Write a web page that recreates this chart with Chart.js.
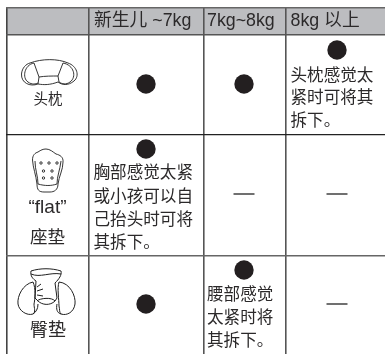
<!DOCTYPE html>
<html><head><meta charset="utf-8">
<style>html,body{margin:0;padding:0;background:#fff}canvas{display:block}</style>
<script src="https://cdn.jsdelivr.net/npm/chart.js@4/dist/chart.umd.min.js"></script>
</head><body><canvas id="c" width="385" height="354"></canvas>
<script>
// Table content
const columns = ['新生儿 ~7kg', '7kg~8kg', '8kg 以上'];
const rowLabels = [['头枕'], ['“flat”', '座垫'], ['臀垫']];
const fitDots = [{col:0,row:0},{col:1,row:0},{col:2,row:0,note:true},{col:0,row:1,note:true},{col:1,row:2,note:true},{col:0,row:2}];
const noFit = [{col:1,row:1},{col:2,row:1},{col:2,row:2}];
const notes = [
  {col:2,row:0,lines:['头枕感觉太','紧时可将其','拆下。']},
  {col:0,row:1,lines:['胸部感觉太紧','或小孩可以自','己抬头时可将','其拆下。']},
  {col:1,row:2,lines:['腰部感觉','太紧时将','其拆下。']}
];
// Table layout in the scale's units
const colEdges = [6.5, 89, 203.5, 286];
const rowEdges = [7.5, 35, 134.5, 256];
const colCenters = [146, 244, 337];
const rowCenters = [84, 194, 304];
const dotY = [50, 149, 270];
const font = '"Liberation Sans","Noto Sans CJK SC",sans-serif';
const ink = '#231f20', txt = '#2b292a';

const cellX = d => colCenters[d.col];
const cellY = d => d.note ? dotY[d.row] : rowCenters[d.row];

function drawIcons(c, X, Y){
  c.save(); c.strokeStyle='#1f1f1f'; c.lineWidth=0.9; c.lineJoin='round';
  const path = (pts)=>{c.beginPath();pts();c.stroke();};
  // headrest
  path(()=>{c.moveTo(X(30),Y(63));c.bezierCurveTo(X(42),Y(58.5),X(58),Y(58.5),X(68),Y(63));c.bezierCurveTo(X(77),Y(66),X(80),Y(76),X(74),Y(81));c.bezierCurveTo(X(68),Y(86),X(62),Y(85),X(58),Y(82));
    c.bezierCurveTo(X(50),Y(85),X(44),Y(85),X(38),Y(84));c.bezierCurveTo(X(30),Y(87),X(21),Y(83),X(21.5),Y(74));c.bezierCurveTo(X(22),Y(68),X(26),Y(64),X(30),Y(63));});
  path(()=>{c.moveTo(X(34),Y(63));c.bezierCurveTo(X(24),Y(65),X(22),Y(78),X(28),Y(82));c.bezierCurveTo(X(32),Y(85),X(36),Y(84),X(38),Y(83));});
  path(()=>{c.moveTo(X(34),Y(63));c.lineTo(X(39),Y(77));c.lineTo(X(38),Y(84));});
  path(()=>{c.moveTo(X(39),Y(77));c.bezierCurveTo(X(45),Y(76),X(52),Y(76),X(58),Y(76));c.lineTo(X(59),Y(82));});
  path(()=>{c.moveTo(X(63),Y(63));c.lineTo(X(58),Y(76));});
  path(()=>{c.moveTo(X(63),Y(63));c.bezierCurveTo(X(74),Y(65),X(77),Y(77),X(70),Y(82));c.bezierCurveTo(X(66),Y(85),X(62),Y(84),X(59),Y(82));});
  // flat seat pad
  path(()=>{c.moveTo(X(32.5),Y(160));c.bezierCurveTo(X(32.5),Y(155),X(35),Y(153),X(38),Y(152));c.bezierCurveTo(X(41),Y(150),X(43),Y(149),X(46),Y(149));c.bezierCurveTo(X(50),Y(149),X(53),Y(152),X(56),Y(154));c.bezierCurveTo(X(60),Y(155),X(63.5),Y(157),X(63),Y(162));
    c.bezierCurveTo(X(63),Y(170),X(59),Y(176),X(58),Y(184));c.bezierCurveTo(X(58),Y(190),X(54),Y(192),X(50),Y(192));c.lineTo(X(44),Y(192));c.bezierCurveTo(X(39),Y(192),X(37),Y(190),X(37),Y(184));c.bezierCurveTo(X(36),Y(175),X(33),Y(168),X(32.5),Y(160));});
  path(()=>{c.moveTo(X(35),Y(161));c.bezierCurveTo(X(35),Y(170),X(38),Y(176),X(38),Y(184));c.bezierCurveTo(X(45),Y(186),X(51),Y(186),X(57),Y(184));c.bezierCurveTo(X(57),Y(176),X(60),Y(170),X(61),Y(161));});
  [[41,163],[49,163],[57,163],[43.5,171],[52,171],[43.5,178],[52,178]].forEach(p=>{c.beginPath();c.arc(X(p[0]),Y(p[1]),1.2,0,7);c.stroke();});
  // crotch pad
  c.lineWidth=1;
  path(()=>{c.moveTo(X(31),Y(271));c.bezierCurveTo(X(30),Y(276),X(33),Y(279),X(36),Y(281));c.lineTo(X(35),Y(298));c.lineTo(X(38),Y(301));c.bezierCurveTo(X(42),Y(305),X(50),Y(306),X(55),Y(301));c.lineTo(X(57),Y(298));c.lineTo(X(55),Y(283));c.bezierCurveTo(X(59),Y(279),X(62),Y(275),X(61),Y(271));c.bezierCurveTo(X(52),Y(268),X(40),Y(268),X(31),Y(271));});
  path(()=>{c.moveTo(X(31),Y(274));c.bezierCurveTo(X(40),Y(278),X(50),Y(272),X(61),Y(274));});
  path(()=>{c.moveTo(X(37),Y(301));c.bezierCurveTo(X(40),Y(298),X(52),Y(297),X(55),Y(301));});
  [[37,287,41,284],[37,291,43,289],[37,295,43,296]].forEach(l=>path(()=>{c.moveTo(X(l[0]),Y(l[1]));c.lineTo(X(l[2]),Y(l[3]));}));
  path(()=>{c.moveTo(X(33),Y(282));c.bezierCurveTo(X(23),Y(284),X(17),Y(296),X(18),Y(304));c.bezierCurveTo(X(19),Y(311),X(27),Y(316),X(33),Y(314));c.bezierCurveTo(X(36),Y(312),X(38),Y(309),X(38),Y(304));});
  path(()=>{c.moveTo(X(33),Y(282));c.bezierCurveTo(X(36),Y(288),X(35),Y(300),X(34),Y(304));c.bezierCurveTo(X(34),Y(308),X(36),Y(312),X(33),Y(314));});
  path(()=>{c.moveTo(X(59),Y(282));c.bezierCurveTo(X(70),Y(283),X(76),Y(296),X(75),Y(304));c.bezierCurveTo(X(74),Y(312),X(67),Y(316),X(61),Y(314));c.bezierCurveTo(X(57),Y(313),X(56),Y(309),X(57),Y(304));});
  path(()=>{c.moveTo(X(59),Y(282));c.bezierCurveTo(X(57),Y(288),X(59),Y(300),X(59),Y(306));c.bezierCurveTo(X(60),Y(310),X(59),Y(312),X(61),Y(314));});
  c.restore();
}

const tablePlugin = {
  id:'table',
  beforeDraw(chart){
    const c=chart.ctx, x=chart.scales.x, y=chart.scales.y;
    const X=v=>x.getPixelForValue(v), Y=v=>y.getPixelForValue(v);
    c.save();
    c.fillStyle='#bcbdc0';
    c.fillRect(X(colEdges[0]),Y(rowEdges[0]),x.right-X(colEdges[0]),Y(rowEdges[1])-Y(rowEdges[0]));
    c.restore();
  },
  afterDraw(chart){
    const c=chart.ctx, x=chart.scales.x, y=chart.scales.y;
    const X=v=>x.getPixelForValue(v), Y=v=>y.getPixelForValue(v);
    c.save();
    c.fillStyle=txt; c.textBaseline='middle'; c.textAlign='left';
    c.font='17.8px '+font;
    const headX=[94,207,290.5];
    columns.forEach((t,i)=>c.fillText(t,X(headX[i]),Y(21)));
    c.font='16.6px '+font;
    const noteLeft=[93.5,207,290.5];
    const noteY={0:[76,98,121],1:[173,197,220,243],2:[295,318,341]};
    notes.forEach(n=>n.lines.forEach((t,i)=>c.fillText(t,X(noteLeft[n.col]),Y(noteY[n.row][i]))));
    c.textAlign='center';
    c.font='14.5px '+font; c.fillText(rowLabels[0][0],X(48),Y(100));
    c.font='19px '+font; c.fillText(rowLabels[1][0],X(47.5),Y(208));
    c.font='17.5px '+font; c.fillText(rowLabels[1][1],X(47.5),Y(238));
    c.font='18px '+font; c.fillText(rowLabels[2][0],X(48),Y(331));
    c.restore();
    drawIcons(c,X,Y);
  }
};

new Chart(document.getElementById('c'),{
  type:'scatter',
  data:{datasets:[
    {label:'fit',data:fitDots.map(d=>({x:cellX(d),y:cellY(d)})),pointStyle:'circle',pointRadius:9.7,pointHoverRadius:9.7,backgroundColor:ink,borderWidth:0},
    {label:'none',data:noFit.map(d=>({x:cellX(d),y:cellY(d)})),pointStyle:'line',pointRadius:10.5,pointHoverRadius:10.5,borderColor:'#222',borderWidth:1.3,backgroundColor:'#222'}
  ]},
  options:{
    responsive:false,animation:false,events:[],
    layout:{padding:{left:6,top:7,right:0,bottom:0},autoPadding:false},
    plugins:{legend:{display:false},tooltip:{enabled:false}},
    scales:{
      x:{type:'linear',min:6,max:385,
        afterBuildTicks:s=>{s.ticks=colEdges.map(v=>({value:v}));},
        ticks:{display:false},border:{display:false},
        grid:{drawTicks:false,color:ctx=>ctx.index===0?'#444':'#555',lineWidth:1.6}},
      y:{type:'linear',min:7,max:354,reverse:true,
        afterBuildTicks:s=>{s.ticks=rowEdges.map(v=>({value:v}));},
        ticks:{display:false},border:{display:false},
        grid:{drawTicks:false,color:ctx=>['#666','#555','#222','#666'][ctx.index],lineWidth:ctx=>[1.5,1.5,1.2,1.6][ctx.index]}}
    }
  },
  plugins:[tablePlugin]
});
</script></body></html>
